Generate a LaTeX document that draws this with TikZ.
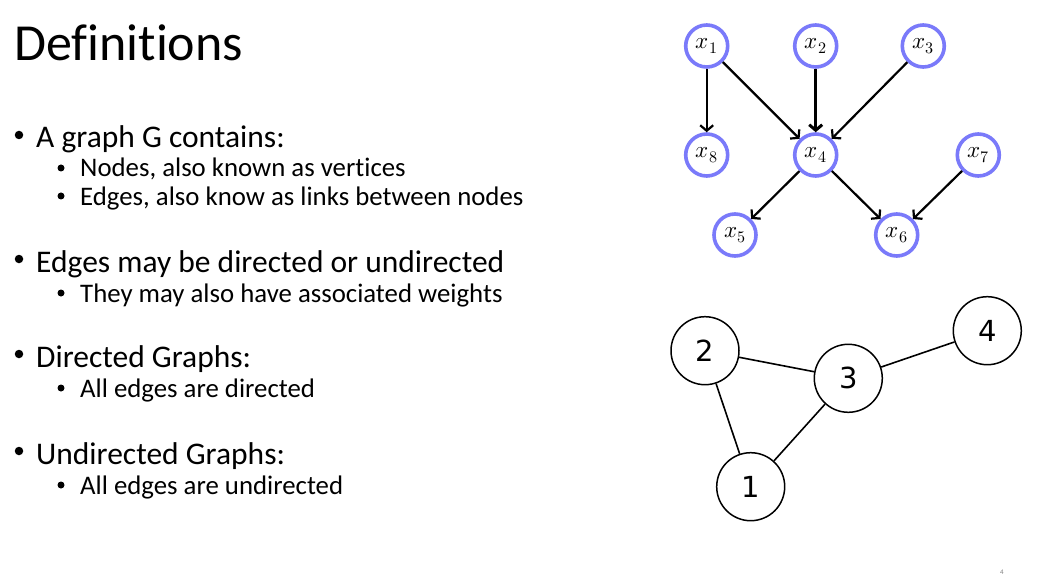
\documentclass[tikz,border=0pt]{standalone}
\usepackage{fontspec}
\usepackage{unicode-math}
\setmainfont{Carlito}[Ligatures=NoCommon]
\setmathfont{Latin Modern Math}
\newfontfamily\graphfont{DejaVu Sans}
\usepackage{tikz}
\usetikzlibrary{arrows.meta}

\definecolor{ringblue}{RGB}{122,122,250}

\begin{document}
\begin{tikzpicture}[
  x=1pt, y=-1pt,
  >={Straight Barb[length=5.5pt,width=13pt]},
  title/.style={anchor=base west, inner sep=0pt, font=\fontsize{52}{52}\selectfont},
  itemone/.style={anchor=base west, inner sep=0pt, font=\fontsize{31.5}{32}\selectfont},
  itemtwo/.style={anchor=base west, inner sep=0pt, font=\fontsize{26.8}{27}\selectfont},
  dotone/.style={circle, fill, inner sep=0pt, outer sep=0pt, minimum size=8.5pt},
  dottwo/.style={circle, fill, inner sep=0pt, outer sep=0pt, minimum size=7pt},
  dnode/.style={circle, draw=ringblue, line width=3.6pt, minimum size=42pt, inner sep=0pt, fill=white, font=\fontsize{23}{23}\selectfont},
  dedge/.style={->, line width=2.2pt},
  unode/.style={circle, draw, line width=1.5pt, minimum size=68pt, inner sep=0pt, fill=white, font=\graphfont\fontsize{29}{29}\selectfont},
  uedge/.style={line width=1.6pt}
]
\useasboundingbox (0,0) rectangle (1053,575);
\fill[white] (0,0) rectangle (1053,575);

% Title
\node[title] (ttl) at (14,61) {Definitions};

% Bullet list
\node[dotone] (d1) at (19,135) {};
\node[itemone] (b1) at (36,148) {A graph G contains:};
\node[dottwo] (d1a) at (61,168) {};
\node[itemtwo] (b1a) at (80,177) {Nodes, also known as vertices};
\node[dottwo] (d1b) at (61,196) {};
\node[itemtwo] (b1b) at (80,205) {Edges, also know as links between nodes};
\node[dotone] (d2) at (19,259) {};
\node[itemone] (b2) at (36,272) {Edges may be directed or undirected};
\node[dottwo] (d2a) at (61,293) {};
\node[itemtwo] (b2a) at (80,302) {They may also have associated weights};
\node[dotone] (d3) at (19,354) {};
\node[itemone] (b3) at (36,367) {Directed Graphs:};
\node[dottwo] (d3a) at (61,388) {};
\node[itemtwo] (b3a) at (80,397) {All edges are directed};
\node[dotone] (d4) at (19,451) {};
\node[itemone] (b4) at (36,464) {Undirected Graphs:};
\node[dottwo] (d4a) at (61,485) {};
\node[itemtwo] (b4a) at (80,494) {All edges are undirected};

% Directed graph
\node[dnode] (x1) at (706.7,46) {$x_1$};
\node[dnode] (x2) at (815.7,46) {$x_2$};
\node[dnode] (x3) at (923.3,46) {$x_3$};
\node[dnode] (x8) at (706.7,155) {$x_8$};
\node[dnode] (x4) at (815.7,155) {$x_4$};
\node[dnode] (x7) at (978.3,155) {$x_7$};
\node[dnode] (x5) at (735,235) {$x_5$};
\node[dnode] (x6) at (896.7,235) {$x_6$};

\draw[dedge] (x1) -- (x8);
\draw[dedge] (x1) -- (x4);
\draw[dedge, line width=3pt] (x2) -- (x4);
\draw[dedge] (x3) -- (x4);
\draw[dedge] (x4) -- (x5);
\draw[dedge] (x4) -- (x6);
\draw[dedge] (x7) -- (x6);

% Undirected graph
\node[unode] (n2) at (705,350.7) {2};
\node[unode] (n3) at (848.3,378.3) {3};
\node[unode] (n4) at (987.3,330.7) {4};
\node[unode] (n1) at (750.7,486.7) {1};

\draw[uedge] (n2) -- (n3);
\draw[uedge] (n2) -- (n1);
\draw[uedge] (n3) -- (n1);
\draw[uedge] (n3) -- (n4);

% Page number
\node[anchor=base, inner sep=0pt, text=gray, font=\fontsize{7}{7}\selectfont] (pgno) at (1002,574) {4};
\end{tikzpicture}
\end{document}
